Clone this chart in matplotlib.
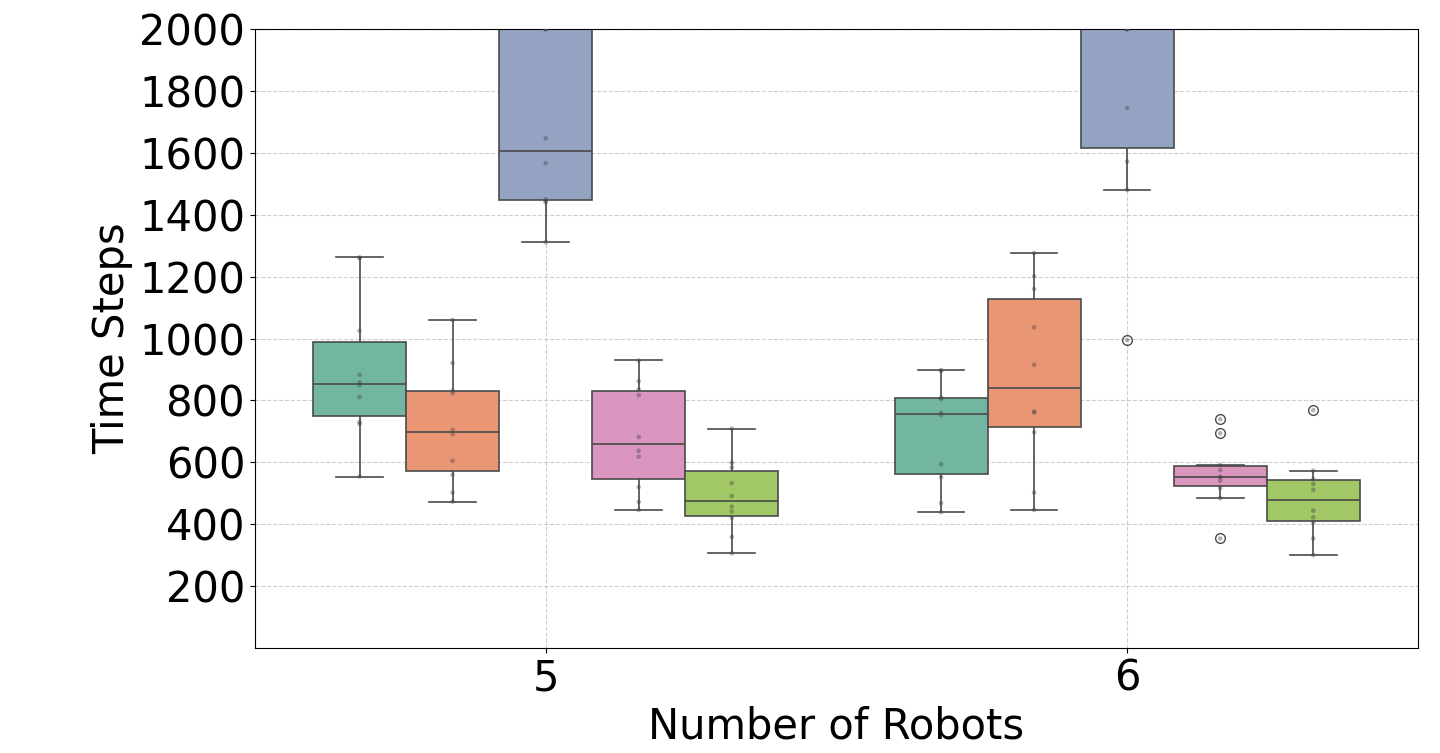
import matplotlib
matplotlib.use('Agg')
import matplotlib.pyplot as plt
import numpy as np
import pandas as pd
import seaborn as sns

robots = [5, 6]
methods = ['M1', 'M2', 'M3', 'M4', 'M5']

# time steps per trial (10 trials); 2000 = time limit
steps_5 = {
  'M1': [554, 724, 730, 811, 850, 858, 883, 1025, 1260, 1262],
  'M2': [473, 502, 560, 605, 691, 705, 823, 832, 921, 1060],
  'M3': [1311, 1440, 1445, 1450, 1567, 1647, 2000, 2000, 2000, 2000],
  'M4': [446, 472, 520, 618, 637, 682, 817, 836, 862, 929],
  'M5': [306, 359, 421, 441, 457, 491, 533, 583, 599, 709],
}
steps_6 = {
  'M1': [439, 468, 552, 594, 753, 760, 805, 809, 895, 898],
  'M2': [446, 502, 697, 761, 764, 915, 1036, 1160, 1201, 1276],
  'M3': [995, 1480, 1572, 1745, 2000, 2000, 2000, 2000, 2000, 2000],
  'M4': [354, 484, 517, 540, 552, 553, 575, 591, 694, 739],
  'M5': [300, 354, 405, 422, 444, 511, 530, 546, 573, 769],
}

rows = []
for n, steps in zip(robots, [steps_5, steps_6]):
  for m in methods:
    for v in steps[m]:
      rows.append({'robots': n, 'method': m, 'steps': v})
df = pd.DataFrame(rows)

fig = plt.figure(figsize=(14.4, 7.53), dpi=100)
ax = fig.add_axes([0.177, 0.1394, 0.8077, 0.8221])

sns.boxplot(data=df, x='robots', y='steps', hue='method', palette='Set2',
            linecolor='#4a4a4a', linewidth=1.2, ax=ax, legend=False,
            flierprops=dict(marker='o', markerfacecolor='none',
                            markeredgecolor='#4a4a4a', markersize=7))
sns.stripplot(data=df, x='robots', y='steps', hue='method', dodge=True,
              jitter=False, palette=['#444444'] * 5, alpha=0.4, size=3.3,
              ax=ax, legend=False)

ax.set_ylim(0, 2000)
ax.set_yticks(np.arange(200, 2001, 200))
ax.grid(True, linestyle='--', alpha=0.6)
ax.set_axisbelow(True)
ax.tick_params(axis='both', labelsize=30)
ax.set_xlabel('Number of Robots', fontsize=30)
ax.set_ylabel('Time Steps', fontsize=30)

fig.savefig('out.png', dpi=100)
